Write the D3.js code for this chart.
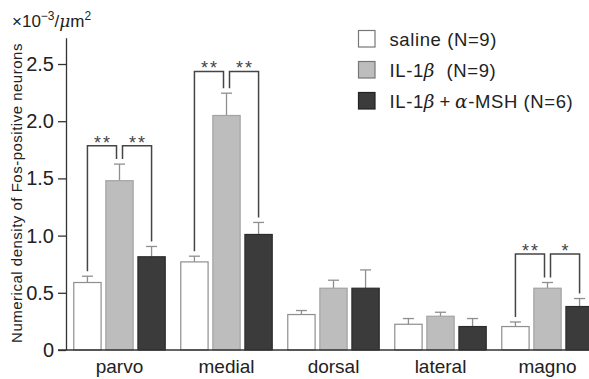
<!DOCTYPE html>
<html>
<head>
<meta charset="utf-8">
<script src="https://cdn.jsdelivr.net/npm/d3@7"></script>
<style>
  body { margin: 0; background: #fff; }
  svg { display: block; font-family: "Liberation Sans", Arial, Helvetica, sans-serif; }
  text { white-space: pre; }
</style>
</head>
<body>
<div id="chart"></div>
<script>
// regions and treatment groups
const regions = ['parvo', 'medial', 'dorsal', 'lateral', 'magno']
const groups = ['saline', 'il1b', 'il1bMsh']

// mean and SEM per region (x10^-3 / um^2)
const salineMean = [0.59, 0.77, 0.31, 0.225, 0.205]
const salineSem  = [0.055, 0.05, 0.035, 0.05, 0.04]
const il1bMean   = [1.48, 2.05, 0.54, 0.295, 0.54]
const il1bSem    = [0.145, 0.195, 0.07, 0.035, 0.05]
const mshMean    = [0.815, 1.01, 0.54, 0.205, 0.38]
const mshSem     = [0.09, 0.105, 0.16, 0.07, 0.07]

const yTicks = [0, 0.5, 1.0, 1.5, 2.0, 2.5]
const yTickLabels = ['0', '0.5', '1.0', '1.5', '2.0', '2.5']

// significance brackets
const sigRegion = ['parvo', 'parvo', 'medial', 'medial', 'magno', 'magno']
const sigFrom   = ['saline', 'il1b', 'saline', 'il1b', 'saline', 'il1b']
const sigTo     = ['il1b', 'il1bMsh', 'il1b', 'il1bMsh', 'il1b', 'il1bMsh']
const sigTop    = [1.785, 1.785, 2.435, 2.435, 0.84, 0.84]
const sigStars  = ['**', '**', '**', '**', '**', '*']

const meanByGroup = { saline: salineMean, il1b: il1bMean, il1bMsh: mshMean }
const semByGroup = { saline: salineSem, il1b: il1bSem, il1bMsh: mshSem }

const width = 589, height = 379

const fill = d3.scaleOrdinal().domain(groups).range(['#ffffff', '#bdbdbd', '#3b3b3b'])
const stroke = d3.scaleOrdinal().domain(groups).range(['#8e8e8e', '#a3a3a3', '#2c2c2c'])

const svg = d3.select('#chart').append('svg')
    .attr('width', width)
    .attr('height', height)

const x0 = d3.scaleBand()
    .domain(regions)
    .range([66, 601])
    .paddingInner(0.136)
    .paddingOuter(0.068)

const x1 = d3.scaleBand()
    .domain(groups)
    .range([0, x0.bandwidth()])
    .paddingInner(0.117)

const y = d3.scaleLinear()
    .domain([0, 2.73])
    .range([350, 37.7])

const rows = []
regions.forEach((r, i) => {
    groups.forEach(g => {
        rows.push({ region: r, group: g, mean: meanByGroup[g][i], sem: semByGroup[g][i] })
    })
})

const barX = (r, g) => x0(r) + x1(g)
const barMid = (r, g) => barX(r, g) + x1.bandwidth() / 2
const rowOf = (r, g) => rows.find(d => d.region === r && d.group === g)

// error bars (behind the bars)
const err = svg.append('g')
    .attr('stroke', '#8f8f8f')
    .attr('stroke-width', 1.3)
err.selectAll('line.stem')
    .data(rows)
    .enter()
    .append('line')
    .attr('x1', d => barMid(d.region, d.group))
    .attr('x2', d => barMid(d.region, d.group))
    .attr('y1', d => y(d.mean))
    .attr('y2', d => y(d.mean + d.sem))
err.selectAll('line.cap')
    .data(rows)
    .enter()
    .append('line')
    .attr('x1', d => barMid(d.region, d.group) - 5.5)
    .attr('x2', d => barMid(d.region, d.group) + 5.5)
    .attr('y1', d => y(d.mean + d.sem))
    .attr('y2', d => y(d.mean + d.sem))

// bars
svg.append('g')
    .selectAll('rect')
    .data(rows)
    .enter()
    .append('rect')
    .attr('x', d => barX(d.region, d.group) + 0.5)
    .attr('y', d => y(d.mean))
    .attr('width', x1.bandwidth() - 1)
    .attr('height', d => y(0) - y(d.mean))
    .attr('fill', d => fill(d.group))
    .attr('stroke', d => stroke(d.group))
    .attr('stroke-width', 1.2)

// y axis
const yAxis = svg.append('g')
    .attr('transform', 'translate(66,0)')
    .call(d3.axisLeft(y)
        .tickValues(yTicks)
        .tickFormat((d, i) => yTickLabels[i])
        .tickSize(8)
        .tickPadding(4)
        .tickSizeOuter(0))
yAxis.select('.domain').attr('stroke', '#333').attr('stroke-width', 1.3)
yAxis.selectAll('.tick line').attr('stroke', '#333').attr('stroke-width', 1.3)
yAxis.selectAll('.tick text')
    .attr('font-size', 20)
    .attr('font-family', '"Liberation Sans", Arial, sans-serif')
    .attr('fill', '#222')

// x axis
const xAxis = svg.append('g')
    .attr('transform', 'translate(0,350)')
    .call(d3.axisBottom(x0).tickSize(0).tickPadding(9.5))
xAxis.select('.domain').remove()
xAxis.append('line')
    .attr('x1', 58)
    .attr('x2', width)
    .attr('stroke', '#333')
    .attr('stroke-width', 1.3)
xAxis.selectAll('.tick text')
    .attr('font-size', 19)
    .attr('font-family', '"Liberation Sans", Arial, sans-serif')
    .attr('fill', '#222')

// significance brackets
const gap = 5
const sig = svg.append('g')
sigRegion.forEach((r, i) => {
    const a = sigFrom[i], b = sigTo[i]
    const xa = barMid(r, a) + (a === 'il1b' ? 3 : 0)
    const xb = barMid(r, b) - (b === 'il1b' ? 3 : 0)
    const ya = y(rowOf(r, a).mean + rowOf(r, a).sem) - gap
    const yb = y(rowOf(r, b).mean + rowOf(r, b).sem) - gap
    const yt = y(sigTop[i])
    sig.append('path')
        .attr('d', `M${xa},${ya}V${yt}H${xb}V${yb}`)
        .attr('fill', 'none')
        .attr('stroke', '#454545')
        .attr('stroke-width', 1.5)
    sig.append('text')
        .attr('x', (xa + xb) / 2 + 1)
        .attr('y', yt + 3)
        .attr('text-anchor', 'middle')
        .attr('font-size', 18)
        .attr('letter-spacing', 2)
        .attr('fill', '#444')
        .text(sigStars[i])
})

// y axis title
svg.append('text')
    .attr('transform', 'translate(22,193) rotate(-90)')
    .attr('text-anchor', 'middle')
    .attr('font-size', 15)
    .attr('letter-spacing', 0.5)
    .attr('fill', '#222')
    .text('Numerical density of Fos-positive neurons')

// unit label
const unit = svg.append('text')
    .attr('x', 12)
    .attr('y', 27)
    .attr('font-size', 17)
    .attr('fill', '#222')
unit.append('tspan').text('\u00d710')
unit.append('tspan').attr('font-size', 12).attr('dy', -7).text('\u22123')
unit.append('tspan').attr('dy', 7).text('/')
unit.append('tspan').attr('font-style', 'italic').attr('font-family', '"DejaVu Serif", serif').text('\u03bc')
unit.append('tspan').text('m')
unit.append('tspan').attr('font-size', 12).attr('dy', -7).text('2')

// legend
const legendLabels = [
    [['saline (N=9)', false]],
    [['IL-1', false], ['\u03b2', true], ['  (N=9)', false]],
    [['IL-1', false], ['\u03b2', true], ['\u2009+\u2009', false], ['\u03b1', true], ['-MSH (N=6)', false]]
]
const legend = svg.append('g')
groups.forEach((g, i) => {
    const row = legend.append('g').attr('transform', `translate(358.5,${30.5 + i * 31})`)
    row.append('rect')
        .attr('width', 16.5)
        .attr('height', 16.5)
        .attr('fill', fill(g))
        .attr('stroke', g === 'il1bMsh' ? '#222' : '#777')
        .attr('stroke-width', 1.2)
    const t = row.append('text')
        .attr('x', 31)
        .attr('y', 15)
        .attr('font-size', 18.5)
        .attr('letter-spacing', 0.6)
        .attr('fill', '#222')
    legendLabels[i].forEach(([s, it]) => {
        const sp = t.append('tspan').text(s)
        if (it) sp.attr('font-style', 'italic').attr('font-family', '"DejaVu Serif", serif')
    })
})
</script>
</body>
</html>
